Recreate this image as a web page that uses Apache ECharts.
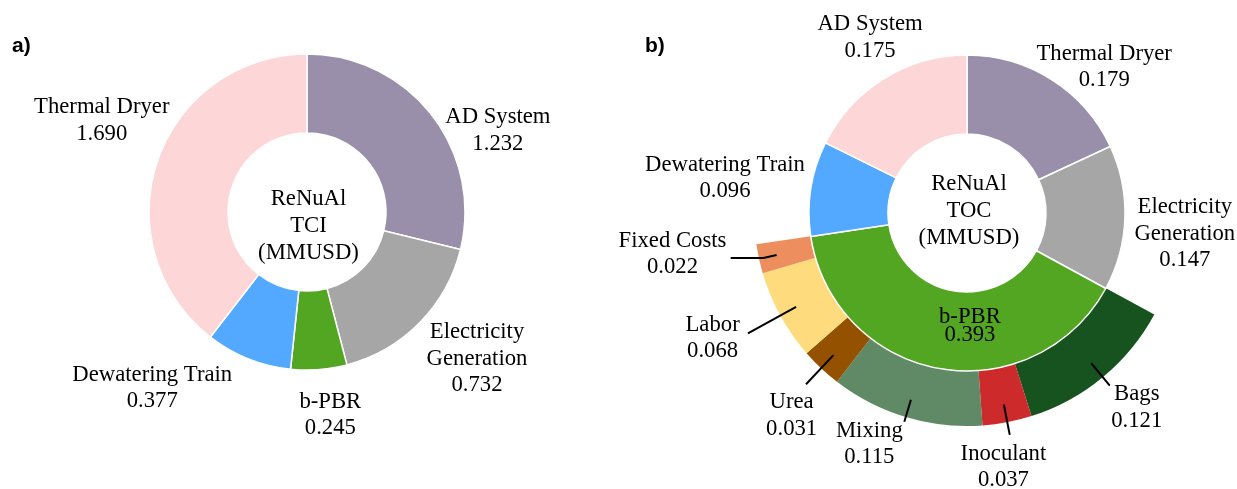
<!DOCTYPE html>
<html>
<head>
<meta charset="utf-8">
<title>ReNuAl TCI / TOC</title>
<script src="https://cdn.jsdelivr.net/npm/echarts@6/dist/echarts.min.js"></script>
<style>
  html, body { margin: 0; padding: 0; background: #fff; }
  #chart { width: 1237px; height: 489px; }
</style>
</head>
<body>
<div id="chart"></div>
<script>
// a) total capital investment, MMUSD
var tciNames = ['AD System', 'Electricity\nGeneration', 'b-PBR', 'Dewatering Train', 'Thermal Dryer'];
var tciValues = [1.232, 0.732, 0.245, 0.377, 1.690];
var tciColors = ['#9a8faa', '#a6a6a6', '#53a622', '#53a8ff', '#fdd6d7'];

// b) total operating cost, MMUSD
var tocNames = ['Thermal Dryer', 'Electricity\nGeneration', 'b-PBR', 'Dewatering Train', 'AD System'];
var tocValues = [0.179, 0.147, 0.393, 0.096, 0.175];
var tocColors = ['#9a8faa', '#a6a6a6', '#53a622', '#53a8ff', '#fdd6d7'];

// b-PBR breakdown (outer ring of b)
var pbrNames = ['Bags', 'Inoculant', 'Mixing', 'Urea', 'Labor', 'Fixed Costs'];
var pbrValues = [0.121, 0.037, 0.115, 0.031, 0.068, 0.022];
var pbrColors = ['#16531f', '#cd2b2b', '#5f8a65', '#945200', '#fedb7d', '#ec8e5e'];

// layout / style
var CENTER_A = [307, 212], CENTER_B = [967, 213];
var R_IN = 79, R_OUT = 158, R_RING = 213, R_LEADER = 195;
var SERIF = "'Liberation Serif', 'Times New Roman', serif";
var labelText = { fontFamily: SERIF, fontSize: 22.7, lineHeight: 26.5, color: '#000' };

// label nudges from echarts' default spot
var tciLabelShift = [[9, 16], [2, 36], [-24.5, 45.5], [-11, 29.5], [17, -40.6]];
var tocLabelShift = [[-20.5, -13], [4.5, 16], [24, -7], [-1, -10.5], [44, -41]];
// leader lines for the ring and label offset from the line end
var pbrLineLen = [29, 31, 23, 40, 55, 13.5];
var pbrLineLen2 = [0, 0, 0, 0, 0, 32.7];
var pbrLabelShift = [[27, 22], [-6.3, 32], [-35, 22], [-14.4, 31.5], [-35.3, 4.6], [-58.2, -4]];

function fmt(p) { return p.name + '\n' + p.value.toFixed(3); }

function shiftLabel(offsets, fromLineEnd) {
  return function (p) {
    var o = offsets[p.dataIndex];
    if (!o) return {};
    var ax, ay;
    if (fromLineEnd && p.labelLinePoints) {
      var end = p.labelLinePoints[p.labelLinePoints.length - 1];
      ax = end[0]; ay = end[1];
    } else {
      ax = p.labelRect.x + p.labelRect.width / 2;
      ay = p.labelRect.y + p.labelRect.height / 2;
    }
    return { x: ax + o[0], y: ay + o[1], align: 'center', verticalAlign: 'middle',
             labelLinePoints: p.labelLinePoints };
  };
}

function mainData(names, values, colors, insideName) {
  return names.map(function (n, i) {
    var d = { name: n, value: values[i], itemStyle: { color: colors[i] } };
    if (n === insideName) d.label = { position: 'inside', lineHeight: 18 };
    return d;
  });
}

// outer ring: other sectors kept as transparent gaps so the angles line up
var ringData = [], leaderData = [], leaderShift = [];
tocNames.forEach(function (n, i) {
  if (n === 'b-PBR') {
    pbrValues.forEach(function (v, j) {
      ringData.push({ name: pbrNames[j], value: v, itemStyle: { color: pbrColors[j] } });
      leaderShift[leaderData.length] = pbrLabelShift[j];
      leaderData.push({ name: pbrNames[j], value: v,
        labelLine: { show: true, length: pbrLineLen[j], length2: pbrLineLen2[j] } });
    });
  } else {
    ringData.push({ name: n, value: tocValues[i], itemStyle: { color: 'transparent' } });
    leaderData.push({ name: n, value: tocValues[i], label: { show: false }, labelLine: { show: false } });
  }
});

function centerText(c, txt, shift) {
  return {
    type: 'pie', center: c, radius: [0, R_IN - 5], silent: true,
    itemStyle: { color: 'transparent' },
    label: Object.assign({ position: 'center', formatter: '{b}' }, labelText, { lineHeight: 27 }),
    labelLayout: shiftLabel([shift], false),
    data: [{ name: txt, value: 1 }]
  };
}

var chart = echarts.init(document.getElementById('chart'));
chart.setOption({
  backgroundColor: '#fff',
  animation: false,
  graphic: [
    { type: 'text', left: 12, top: 36, style: { text: 'a)', font: 'bold 21px "Liberation Sans", Arial, sans-serif', fill: '#000' } },
    { type: 'text', left: 645, top: 36, style: { text: 'b)', font: 'bold 21px "Liberation Sans", Arial, sans-serif', fill: '#000' } }
  ],
  series: [
    {
      type: 'pie', center: CENTER_A, radius: [R_IN, R_OUT], startAngle: 90,
      avoidLabelOverlap: false, silent: true,
      itemStyle: { borderColor: '#fff', borderWidth: 1.5 },
      label: Object.assign({ position: 'outside', formatter: fmt }, labelText),
      labelLine: { show: false, length: 0, length2: 0 },
      labelLayout: shiftLabel(tciLabelShift, false),
      data: mainData(tciNames, tciValues, tciColors, null)
    },
    centerText(CENTER_A, 'ReNuAl\nTCI\n(MMUSD)', [1.5, 14.5]),
    {
      type: 'pie', center: CENTER_B, radius: [R_OUT, R_RING], startAngle: 90,
      silent: true, label: { show: false }, labelLine: { show: false },
      itemStyle: { borderWidth: 0 },
      data: ringData
    },
    {
      type: 'pie', center: CENTER_B, radius: [R_IN, R_OUT], startAngle: 90,
      avoidLabelOverlap: false, silent: true,
      itemStyle: { borderColor: '#fff', borderWidth: 1.5 },
      label: Object.assign({ position: 'outside', formatter: fmt }, labelText),
      labelLine: { show: false, length: 0, length2: 0 },
      labelLayout: shiftLabel(tocLabelShift, false),
      data: mainData(tocNames, tocValues, tocColors, 'b-PBR')
    },
    {
      type: 'pie', center: CENTER_B, radius: [R_OUT, R_LEADER], startAngle: 90,
      avoidLabelOverlap: false, silent: true, z: 5,
      itemStyle: { color: 'transparent' },
      label: Object.assign({ position: 'outside', formatter: fmt }, labelText),
      labelLine: { showAbove: true, lineStyle: { color: '#000', width: 2 } },
      labelLayout: shiftLabel(leaderShift, true),
      data: leaderData
    },
    centerText(CENTER_B, 'ReNuAl\nTOC\n(MMUSD)', [2, -2])
  ]
});
</script>
</body>
</html>
